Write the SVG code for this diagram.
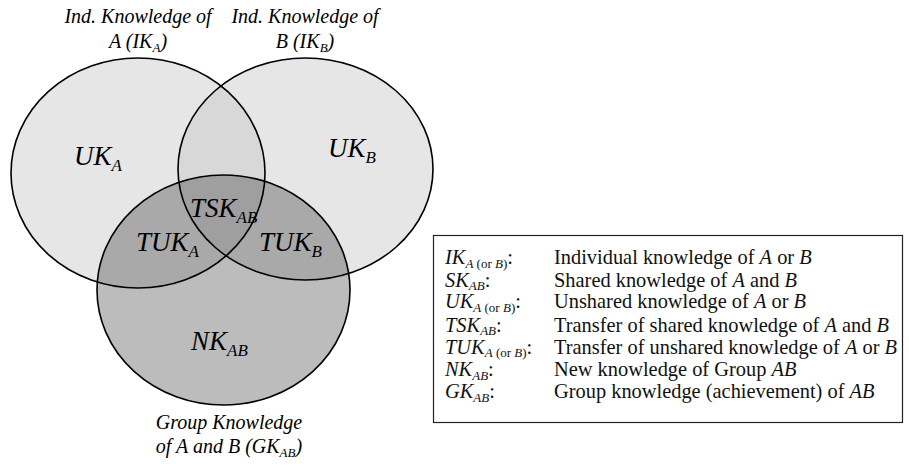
<svg xmlns="http://www.w3.org/2000/svg" width="909" height="466" viewBox="0 0 909 466" font-family="'Liberation Serif', serif">
  <defs>
    <style>
      .it { font-style: italic; }
      .lbl { font-size: 20px; font-style: italic; }
      .reg { font-size: 27px; font-style: italic; }
      .leg { font-size: 20.4px; fill: #111; }
      .sub { font-size: 13px; }
      .ring { fill: none; stroke: #000; stroke-width: 1.6; }
    </style>
    <!-- the three knowledge sets -->
    <ellipse id="shapeA" cx="138" cy="173" rx="127" ry="115"/>
    <ellipse id="shapeB" cx="305.5" cy="169" rx="127.5" ry="111"/>
    <ellipse id="shapeG" cx="223.5" cy="290" rx="126.5" ry="115"/>
    <clipPath id="clipA"><use href="#shapeA"/></clipPath>
    <clipPath id="clipG"><use href="#shapeG"/></clipPath>
  </defs>

  <rect width="909" height="466" fill="#fff"/>

  <!-- region shading: darker where more sets overlap -->
  <g id="fills">
    <use href="#shapeA" fill="#e6e6e6"/>
    <use href="#shapeB" fill="#e6e6e6"/>
    <g clip-path="url(#clipA)"><use href="#shapeB" fill="#d8d8d8"/></g>
    <use href="#shapeG" fill="#bdbcbd"/>
    <g clip-path="url(#clipG)">
      <use href="#shapeA" fill="#aaa9aa"/>
      <use href="#shapeB" fill="#aaa9aa"/>
      <g clip-path="url(#clipA)"><use href="#shapeB" fill="#a09fa0"/></g>
    </g>
  </g>

  <!-- outlines -->
  <g id="node-IKA"><use href="#shapeA" class="ring"/></g>
  <g id="node-IKB"><use href="#shapeB" class="ring" stroke-width="2"/></g>
  <g id="node-GKAB"><use href="#shapeG" class="ring"/></g>

  <!-- set titles -->
  <g id="title-A">
    <text class="lbl" x="138" y="23" text-anchor="middle">Ind. Knowledge of</text>
    <text class="lbl" x="138" y="48" text-anchor="middle">A (IK<tspan font-size="13" dy="4">A</tspan><tspan dy="-4">)</tspan></text>
  </g>
  <g id="title-B">
    <text class="lbl" x="305" y="23" text-anchor="middle">Ind. Knowledge of</text>
    <text class="lbl" x="305" y="48" text-anchor="middle">B (IK<tspan font-size="13" dy="4">B</tspan><tspan dy="-4">)</tspan></text>
  </g>
  <g id="title-G">
    <text class="lbl" x="229" y="429" text-anchor="middle">Group Knowledge</text>
    <text class="lbl" x="229" y="453" text-anchor="middle">of A and B (GK<tspan font-size="13" dy="4">AB</tspan><tspan dy="-4">)</tspan></text>
  </g>

  <!-- region labels -->
  <g id="regions">
    <text class="reg" x="74" y="165">UK<tspan font-size="17" dy="6">A</tspan></text>
    <text class="reg" x="328" y="157">UK<tspan font-size="17" dy="6">B</tspan></text>
    <text class="reg" x="190" y="217">TSK<tspan font-size="17" dy="6">AB</tspan></text>
    <text class="reg" x="136" y="251">TUK<tspan font-size="17" dy="6">A</tspan></text>
    <text class="reg" x="259" y="251">TUK<tspan font-size="17" dy="6">B</tspan></text>
    <text class="reg" x="191" y="350">NK<tspan font-size="17" dy="6">AB</tspan></text>
  </g>

  <!-- legend -->
  <g id="legend">
    <rect x="433.5" y="235.5" width="469" height="187" fill="#fff" stroke="#222" stroke-width="1.2"/>
    <text class="leg" x="445" y="264"><tspan class="it">IK</tspan><tspan class="sub" dy="3.5"><tspan class="it">A</tspan> (or <tspan class="it">B</tspan>)</tspan><tspan dy="-3.5">:</tspan></text>
    <text class="leg" x="554" y="264">Individual knowledge of <tspan class="it">A</tspan> or <tspan class="it">B</tspan></text>
    <text class="leg" x="445" y="286.5"><tspan class="it">SK</tspan><tspan class="sub it" dy="3.5">AB</tspan><tspan dy="-3.5">:</tspan></text>
    <text class="leg" x="554" y="286.5">Shared knowledge of <tspan class="it">A</tspan> and <tspan class="it">B</tspan></text>
    <text class="leg" x="445" y="308"><tspan class="it">UK</tspan><tspan class="sub" dy="3.5"><tspan class="it">A</tspan> (or <tspan class="it">B</tspan>)</tspan><tspan dy="-3.5">:</tspan></text>
    <text class="leg" x="554" y="308">Unshared knowledge of <tspan class="it">A</tspan> or <tspan class="it">B</tspan></text>
    <text class="leg" x="445" y="331.5"><tspan class="it">TSK</tspan><tspan class="sub it" dy="3.5">AB</tspan><tspan dy="-3.5">:</tspan></text>
    <text class="leg" x="554" y="331.5">Transfer of shared knowledge of <tspan class="it">A</tspan> and <tspan class="it">B</tspan></text>
    <text class="leg" x="445" y="353.5"><tspan class="it">TUK</tspan><tspan class="sub" dy="3.5"><tspan class="it">A</tspan> (or <tspan class="it">B</tspan>)</tspan><tspan dy="-3.5">:</tspan></text>
    <text class="leg" x="554" y="353.5">Transfer of unshared knowledge of <tspan class="it">A</tspan> or <tspan class="it">B</tspan></text>
    <text class="leg" x="445" y="376"><tspan class="it">NK</tspan><tspan class="sub it" dy="3.5">AB</tspan><tspan dy="-3.5">:</tspan></text>
    <text class="leg" x="554" y="376">New knowledge of Group <tspan class="it">AB</tspan></text>
    <text class="leg" x="445" y="398"><tspan class="it">GK</tspan><tspan class="sub it" dy="3.5">AB</tspan><tspan dy="-3.5">:</tspan></text>
    <text class="leg" x="554" y="398">Group knowledge (achievement) of <tspan class="it">AB</tspan></text>
  </g>
</svg>
